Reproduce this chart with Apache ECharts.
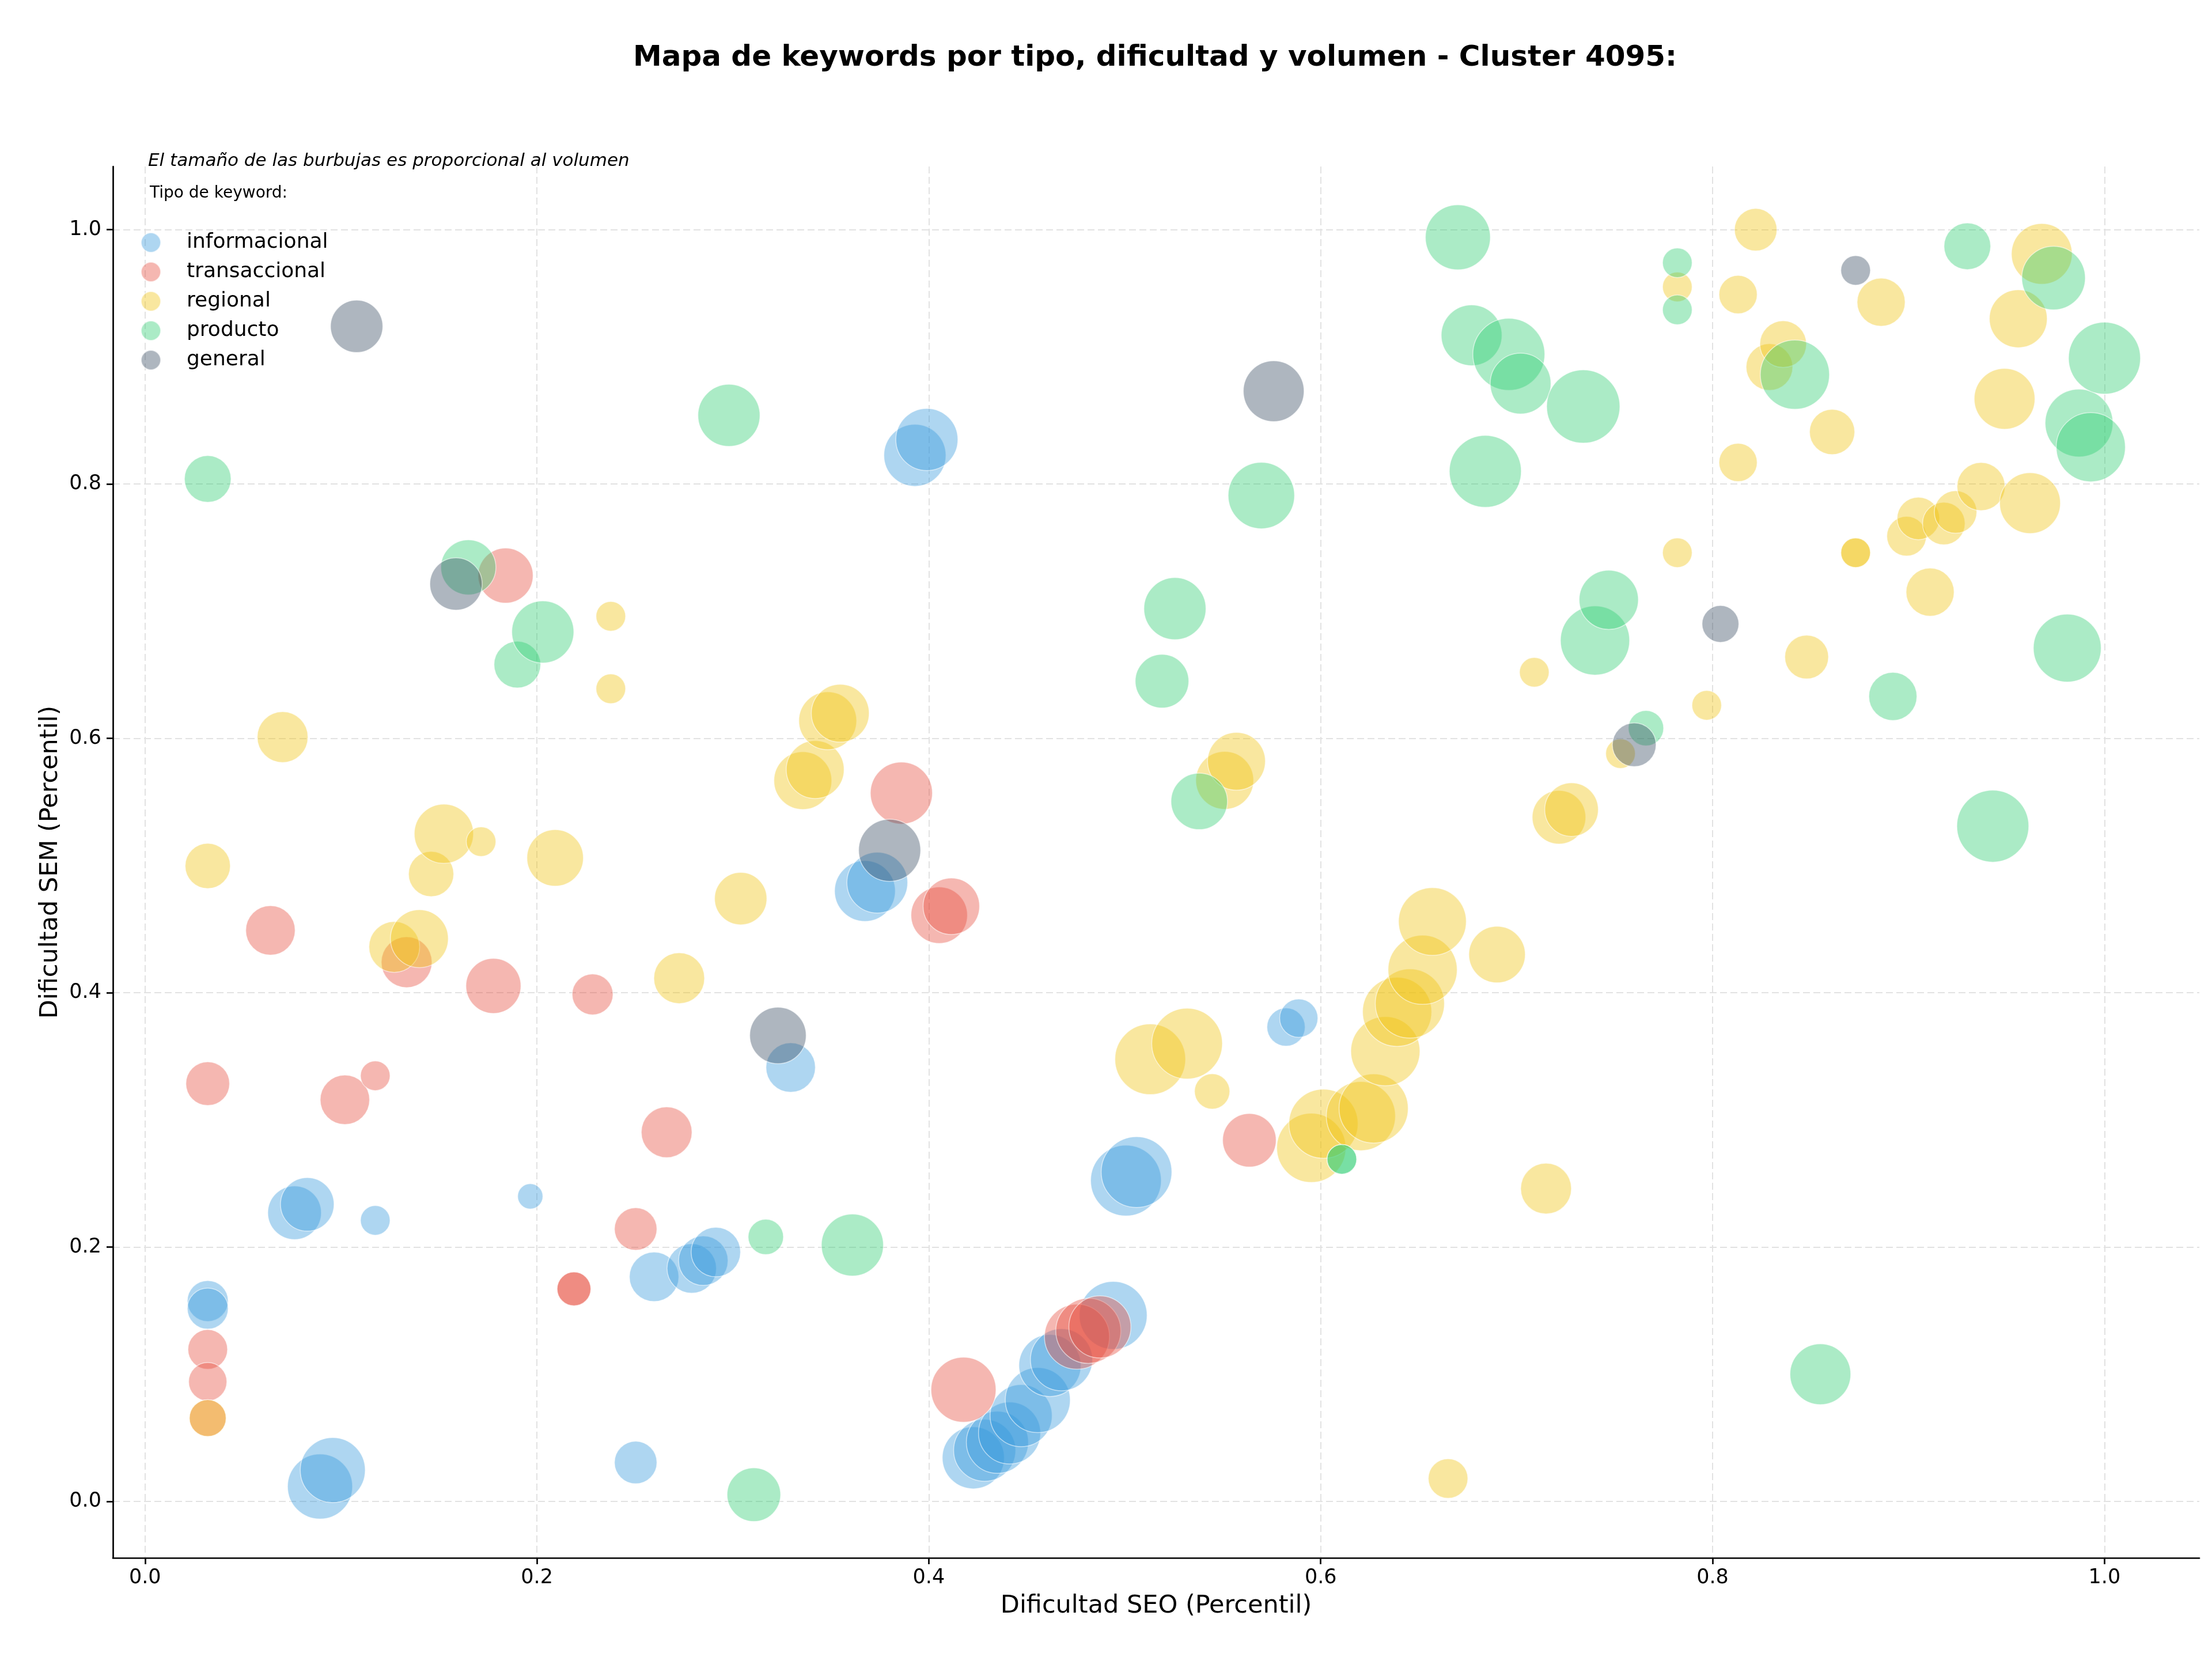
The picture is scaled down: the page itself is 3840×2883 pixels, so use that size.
<!DOCTYPE html>
<html>
<head>
<meta charset="utf-8">
<script src="https://cdn.jsdelivr.net/npm/echarts@6/dist/echarts.min.js"></script>
<style>
  html, body { margin: 0; padding: 0; background: #fff; }
  #chart { width: 3840px; height: 2883px; }
</style>
</head>
<body>
<div id="chart"></div>
<script>
// [dificultad SEO, dificultad SEM, volumen]
const informacional = [
  [0.032, 0.1576, 3150], [0.032, 0.1516, 3150], [0.0763, 0.227, 5400], [0.0828, 0.2336, 5400],
  [0.1175, 0.221, 1650], [0.1966, 0.2399, 1200], [0.0893, 0.0117, 7950], [0.0958, 0.0246, 7950],
  [0.2504, 0.0306, 3400], [0.2598, 0.1766, 4600], [0.279, 0.1832, 4600], [0.2849, 0.1893, 4600],
  [0.2913, 0.1961, 4600], [0.3295, 0.3412, 4600], [0.3674, 0.480, 6950], [0.3737, 0.4866, 6950],
  [0.3929, 0.8226, 7250], [0.399, 0.835, 7250], [0.5823, 0.373, 2750], [0.5888, 0.380, 2750],
  [0.5006, 0.2523, 9400], [0.506, 0.259, 9400],
  [0.4227, 0.0343, 7250], [0.4285, 0.0402, 7250], [0.4350, 0.0465, 7250], [0.4412, 0.0538, 7250],
  [0.4471, 0.0674, 7250], [0.4556, 0.0797, 7950], [0.4618, 0.1069, 7250], [0.4677, 0.1114, 7250],
  [0.4941, 0.1463, 8650]
];
const transaccional = [
  [0.032, 0.3285, 3600], [0.032, 0.1195, 2950], [0.032, 0.0941, 2750], [0.032, 0.0655, 2550],
  [0.064, 0.449, 4600], [0.102, 0.3158, 4600], [0.1175, 0.3347, 1650], [0.1335, 0.424, 4850],
  [0.1778, 0.4054, 5700], [0.184, 0.728, 5700], [0.2284, 0.3987, 3150], [0.2189, 0.1671, 2150],
  [0.2189, 0.1671, 2150], [0.2504, 0.2142, 3400], [0.2662, 0.2903, 4850], [0.386, 0.557, 7250],
  [0.4053, 0.461, 6000], [0.4115, 0.468, 6000], [0.5636, 0.284, 5400], [0.4177, 0.0878, 7950],
  [0.4756, 0.1295, 7950], [0.4814, 0.1341, 7950], [0.4873, 0.1372, 7250]
];
const regional = [
  [0.032, 0.4997, 3850], [0.032, 0.0655, 2550], [0.0702, 0.601, 4850], [0.1272, 0.436, 4850],
  [0.140, 0.4425, 6300], [0.146, 0.4934, 3850], [0.1525, 0.525, 6600], [0.1715, 0.5188, 1650],
  [0.2093, 0.506, 6000], [0.2377, 0.696, 1650], [0.2377, 0.639, 1650], [0.2726, 0.4114, 4850],
  [0.304, 0.474, 5150], [0.3357, 0.5668, 6300], [0.342, 0.5755, 6300], [0.3484, 0.6139, 6300],
  [0.3548, 0.6198, 6300], [0.513, 0.3477, 9400], [0.5318, 0.360, 9400], [0.5446, 0.3224, 2350],
  [0.551, 0.567, 6300], [0.557, 0.582, 6300], [0.5952, 0.278, 9000], [0.6014, 0.297, 9000],
  [0.6205, 0.303, 9000], [0.627, 0.309, 9000], [0.633, 0.354, 9000], [0.639, 0.385, 9000],
  [0.6455, 0.3915, 9000], [0.652, 0.418, 9000], [0.657, 0.456, 8650], [0.690, 0.430, 6000],
  [0.665, 0.018, 2950], [0.715, 0.246, 4850], [0.709, 0.652, 1650], [0.7216, 0.538, 5400],
  [0.728, 0.544, 5400], [0.753, 0.588, 1650], [0.782, 0.746, 1650], [0.782, 0.955, 1650],
  [0.797, 0.626, 1650], [0.813, 0.817, 2750], [0.813, 0.949, 2750], [0.822, 1.0, 3400],
  [0.829, 0.892, 4100], [0.836, 0.910, 4100], [0.848, 0.664, 3600], [0.861, 0.841, 3850],
  [0.873, 0.746, 1650], [0.873, 0.746, 1650], [0.886, 0.943, 4350], [0.899, 0.759, 2950],
  [0.905, 0.773, 3400], [0.911, 0.715, 4350], [0.918, 0.769, 3400], [0.924, 0.778, 3400],
  [0.937, 0.798, 4350], [0.949, 0.867, 6950], [0.956, 0.930, 6300], [0.962, 0.785, 6950],
  [0.968, 0.981, 6950]
];
const producto = [
  [0.032, 0.804, 4100], [0.165, 0.7345, 5700], [0.190, 0.658, 4100], [0.203, 0.6837, 7250],
  [0.298, 0.854, 7250], [0.3168, 0.208, 2350], [0.361, 0.2016, 7250], [0.3107, 0.0053, 5400],
  [0.519, 0.645, 5400], [0.5256, 0.702, 7250], [0.538, 0.5505, 6000], [0.5697, 0.791, 8300],
  [0.6108, 0.269, 1650], [0.6108, 0.269, 1650], [0.670, 0.994, 7950], [0.677, 0.917, 6950],
  [0.684, 0.810, 9750], [0.696, 0.902, 9750], [0.702, 0.879, 6950], [0.734, 0.861, 10100],
  [0.740, 0.677, 9000], [0.747, 0.709, 6600], [0.766, 0.608, 2350], [0.782, 0.974, 1650],
  [0.782, 0.937, 1650], [0.842, 0.886, 9000], [0.855, 0.100, 6950], [0.892, 0.633, 4350],
  [0.930, 0.987, 4100], [0.943, 0.531, 9750], [0.974, 0.962, 7600], [0.981, 0.671, 8650],
  [0.987, 0.848, 8650], [0.993, 0.829, 9000], [1.0, 0.899, 9750]
];
const general = [
  [0.108, 0.924, 5150], [0.1587, 0.7214, 5150], [0.323, 0.3664, 6000], [0.380, 0.512, 7250],
  [0.576, 0.873, 6950], [0.760, 0.595, 3600], [0.804, 0.690, 2550], [0.873, 0.968, 1650]
];
const tipos = ['informacional', 'transaccional', 'regional', 'producto', 'general'];
const tickValues = [0, 0.2, 0.4, 0.6, 0.8, 1.0];

// Mapa de burbujas
(function () {
  const datos = { informacional, transaccional, regional, producto, general };
  const colores = {
    informacional: 'rgba(52, 152, 219, 0.5)',
    transaccional: 'rgba(231, 76, 60, 0.5)',
    regional: 'rgba(241, 196, 15, 0.5)',
    producto: 'rgba(46, 204, 113, 0.5)',
    general: 'rgba(52, 73, 94, 0.5)'
  };
  const fuente = 'DejaVu Sans';
  let myChart = echarts.init(document.getElementById('chart'));

  // ejes comunes
  function eje(nombre, min, max, esY) {
    return {
      type: 'value',
      min: min,
      max: max,
      name: nombre,
      nameLocation: 'middle',
      nameGap: esY ? 81 : 62,
      nameTextStyle: { fontFamily: fuente, fontSize: 43, color: '#000' },
      axisLine: { show: true, onZero: false, lineStyle: { color: '#000', width: 2.7 } },
      axisTick: { show: true, length: 11, lineStyle: { color: '#000', width: 2.7 }, customValues: tickValues },
      axisLabel: {
        fontFamily: fuente, fontSize: 35, color: '#000', margin: esY ? 20 : 17,
        customValues: tickValues,
        formatter: function (v) { return v.toFixed(1); }
      },
      splitLine: { show: true, lineStyle: { color: '#e2e2e2', width: 2, type: [12, 6] } }
    };
  }

  const option = {
    backgroundColor: '#fff',
    animation: false,
    grid: { left: 196, right: 22, top: 289, bottom: 179, containLabel: false },
    legend: {
      orient: 'vertical',
      left: 244,
      top: 403,
      padding: 0,
      itemGap: 15,
      // caja ancha para separar el texto del circulo
      itemWidth: 114,
      itemHeight: 34,
      symbolKeepAspect: true,
      icon: 'circle',
      data: tipos,
      textStyle: { fontFamily: fuente, fontSize: 36, color: '#000' }
    },
    xAxis: eje('Dificultad SEO (Percentil)', -0.0164, 1.0484, false),
    yAxis: eje('Dificultad SEM (Percentil)', -0.0444, 1.0497, true),
    graphic: [
      {
        type: 'text', x: 2005, y: 101,
        style: { text: 'Mapa de keywords por tipo, dificultad y volumen - Cluster 4095:', fontFamily: fuente, fontSize: 50, fontWeight: 'bold', fill: '#000', align: 'center', verticalAlign: 'middle' }
      },
      {
        type: 'text', x: 257, y: 280,
        style: { text: 'El tamaño de las burbujas es proporcional al volumen', fontFamily: fuente, fontSize: 31, fontStyle: 'italic', fill: '#000', align: 'left', verticalAlign: 'middle' }
      },
      {
        type: 'text', x: 260, y: 336,
        style: { text: 'Tipo de keyword:', fontFamily: fuente, fontSize: 28, fill: '#000', align: 'left', verticalAlign: 'middle' }
      }
    ],
    series: tipos.map(function (t) {
      return {
        name: t,
        type: 'scatter',
        data: datos[t],
        symbolSize: function (v) { return Math.sqrt(v[2]) * 1.265; },
        itemStyle: { color: colores[t], borderColor: 'rgba(255,255,255,0.7)', borderWidth: 1.5 },
        emphasis: { disabled: true }
      };
    })
  };
  myChart.setOption(option);
})();
</script>
</body>
</html>
